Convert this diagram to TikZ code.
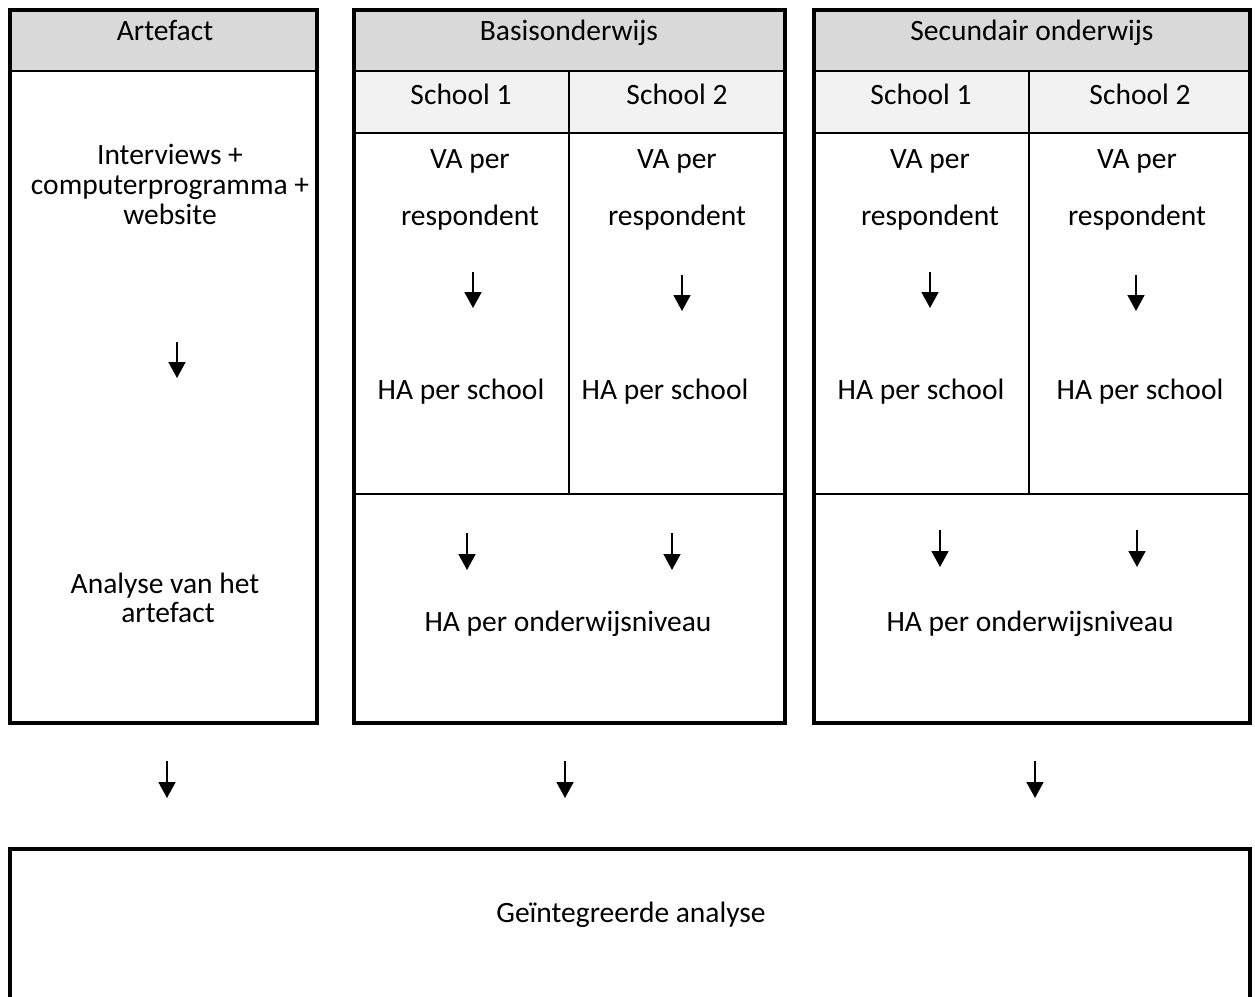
\documentclass[tikz,border=0pt]{standalone}
\usepackage{fontspec}
\setmainfont{Carlito}
\usetikzlibrary{arrows.meta}
\definecolor{headgray}{HTML}{D9D9D9}
\definecolor{subgray}{HTML}{F2F2F2}
\tikzset{
  frame/.style={line width=4pt,line join=miter},
  rule/.style={line width=2pt},
  flow/.style={line width=1.7pt,-{Triangle[width=17pt,length=16pt]}},
  lbl/.style={anchor=base,inner sep=0pt,font=\fontsize{29.5}{30}\selectfont},
}
\begin{document}
\begin{tikzpicture}[x=1pt,y=-1pt]
\useasboundingbox (0,0) rectangle (1255,996);

% header fills
\fill[headgray] (10,10) rectangle (317,71);
\fill[headgray] (354,10) rectangle (785,71);
\fill[headgray] (814,10) rectangle (1250,71);
\fill[subgray] (354,71) rectangle (785,133);
\fill[subgray] (814,71) rectangle (1250,133);

% inner rules
\draw[rule] (10,71) -- (317,71);
\draw[rule] (354,71) -- (785,71);
\draw[rule] (354,133) -- (785,133);
\draw[rule] (569,71) -- (569,494);
\draw[rule] (354,494) -- (785,494);
\draw[rule] (814,71) -- (1250,71);
\draw[rule] (814,133) -- (1250,133);
\draw[rule] (1029,71) -- (1029,494);
\draw[rule] (814,494) -- (1250,494);

% outer frames
\draw[frame] (10,10) rectangle (317,723);
\draw[frame] (354,10) rectangle (785,723);
\draw[frame] (814,10) rectangle (1250,723);
\draw[frame] (10,1000) -- (10,849) -- (1250,849) -- (1250,1000);

% column: artefact
\node[lbl] (artH) at (165,40) {Artefact};
\node[lbl] (art1) at (170,164) {Interviews +};
\node[lbl] (art2) at (170,194) {computerprogramma +};
\node[lbl] (art3) at (170,224) {website};
\node[lbl] (art4) at (165,593) {Analyse van het};
\node[lbl] (art5) at (168,622) {artefact};

% column: basisonderwijs
\node[lbl] (baH) at (569,40) {Basisonderwijs};
\node[lbl] (baS1) at (461,104) {School 1};
\node[lbl] (baS2) at (677,104) {School 2};
\node[lbl] (baV1) at (470,168) {VA per};
\node[lbl] (baR1) at (470,225) {respondent};
\node[lbl] (baV2) at (677,168) {VA per};
\node[lbl] (baR2) at (677,225) {respondent};
\node[lbl] (baA1) at (461,399) {HA per school};
\node[lbl] (baA2) at (665,399) {HA per school};
\node[lbl] (baN) at (568,631) {HA per onderwijsniveau};

% column: secundair onderwijs
\node[lbl] (seH) at (1032,40) {Secundair onderwijs};
\node[lbl] (seS1) at (921,104) {School 1};
\node[lbl] (seS2) at (1140,104) {School 2};
\node[lbl] (seV1) at (930,168) {VA per};
\node[lbl] (seR1) at (930,225) {respondent};
\node[lbl] (seV2) at (1137,168) {VA per};
\node[lbl] (seR2) at (1137,225) {respondent};
\node[lbl] (seA1) at (921,399) {HA per school};
\node[lbl] (seA2) at (1140,399) {HA per school};
\node[lbl] (seN) at (1030,631) {HA per onderwijsniveau};

% integrated analysis
\node[lbl] (int) at (631,922) {Geïntegreerde analyse};

% arrow end points
\coordinate (a0s) at (177,342);  \coordinate (a0e) at (177,378);
\coordinate (b1s) at (473,272);  \coordinate (b1e) at (473,308);
\coordinate (b2s) at (682,275);  \coordinate (b2e) at (682,311);
\coordinate (b3s) at (467,533);  \coordinate (b3e) at (467,570);
\coordinate (b4s) at (672,533);  \coordinate (b4e) at (672,570);
\coordinate (c1s) at (930,272);  \coordinate (c1e) at (930,308);
\coordinate (c2s) at (1136,275); \coordinate (c2e) at (1136,311);
\coordinate (c3s) at (940,530);  \coordinate (c3e) at (940,567);
\coordinate (c4s) at (1137,530); \coordinate (c4e) at (1137,567);
\coordinate (d1s) at (167,761);  \coordinate (d1e) at (167,798);
\coordinate (d2s) at (565,761);  \coordinate (d2e) at (565,798);
\coordinate (d3s) at (1035,761); \coordinate (d3e) at (1035,798);

\foreach \p in {a0,b1,b2,b3,b4,c1,c2,c3,c4,d1,d2,d3}
  \draw[flow] (\p s) -- (\p e);
\end{tikzpicture}
\end{document}
